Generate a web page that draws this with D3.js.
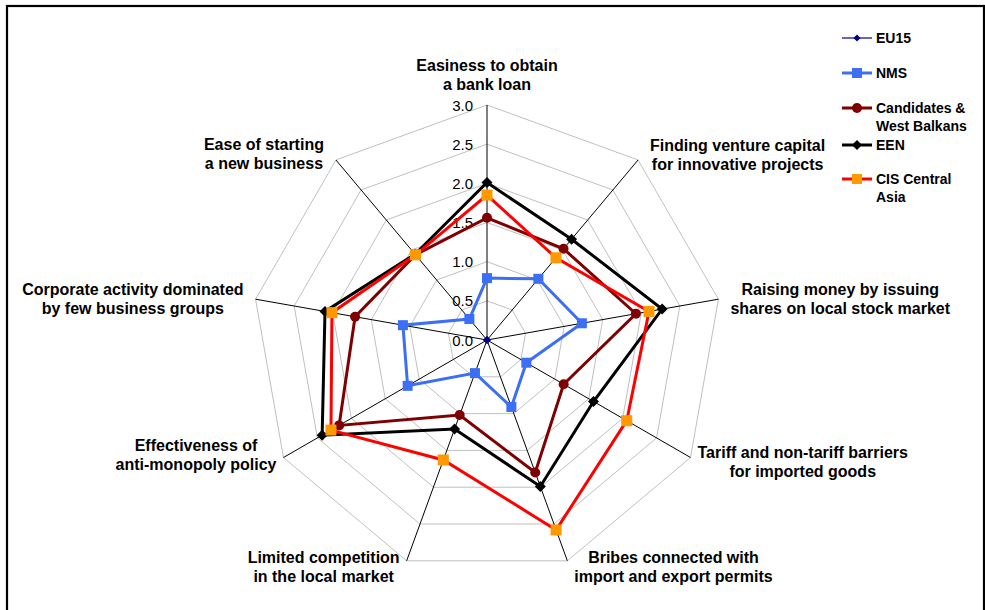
<!DOCTYPE html>
<html>
<head>
<meta charset="utf-8">
<script src="https://cdn.jsdelivr.net/npm/d3@7"></script>
<style>
  html, body { margin: 0; padding: 0; background: #fff; }
  svg { display: block; font-family: "Liberation Sans", Arial, sans-serif; }
</style>
</head>
<body>
<svg id="chart" width="985" height="610"></svg>
<script>
// ---------- data ----------
const categories = [
  ["Easiness to obtain", "a bank loan"],
  ["Finding venture capital", "for innovative projects"],
  ["Raising money by issuing", "shares on local stock market"],
  ["Tariff and non-tariff barriers", "for imported goods"],
  ["Bribes connected with", "import and export permits"],
  ["Limited competition", "in the local market"],
  ["Effectiveness of", "anti-monopoly policy"],
  ["Corporate activity dominated", "by few business groups"],
  ["Ease of starting", "a new business"]
];
const tickValues = [0, 0.5, 1.0, 1.5, 2.0, 2.5, 3.0];
const tickLabels = ["0.0", "0.5", "1.0", "1.5", "2.0", "2.5", "3.0"];

const seriesNames = ["EU15", "NMS", "Candidates & West Balkans", "EEN", "CIS Central Asia"];
const eu15Values       = [0, 0, 0, 0, 0, 0, 0, 0, 0];
const nmsValues        = [0.79, 1.02, 1.23, 0.58, 0.91, 0.45, 1.17, 1.09, 0.35];
const candidatesValues = [1.56, 1.52, 1.93, 1.13, 1.80, 1.02, 2.18, 1.71, 1.42];
const eenValues        = [2.01, 1.68, 2.27, 1.57, 1.99, 1.21, 2.43, 2.10, 1.43];
const cisValues        = [1.85, 1.37, 2.10, 2.06, 2.58, 1.63, 2.30, 2.01, 1.42];

// ---------- styles ----------
const seriesStyle = [
  { name: "EU15", lines: ["EU15"], values: eu15Values, stroke: "#000080", width: 1.2, marker: "diamond", fill: "#000080", size: 7 },
  { name: "NMS", lines: ["NMS"], values: nmsValues, stroke: "#3d6ff5", width: 3, marker: "square", fill: "#3d6ff5", size: 10 },
  { name: "Candidates & West Balkans", lines: ["Candidates &", "West Balkans"], values: candidatesValues, stroke: "#7f0000", width: 3, marker: "circle", fill: "#7f0000", size: 10 },
  { name: "EEN", lines: ["EEN"], values: eenValues, stroke: "#000000", width: 3, marker: "diamond", fill: "#000000", size: 11 },
  { name: "CIS Central Asia", lines: ["CIS Central", "Asia"], values: cisValues, stroke: "#ff0000", width: 3, marker: "square", fill: "#ff9900", size: 11 }
];
// small vertical label nudges (layout only)
const labelNudge = [0, -2, 0, 1, 0, 0, -6, 0, -3];

const svg = d3.select("#chart");
const cx = 487, cy = 340, R = 235;
const n = categories.length;

const r = d3.scaleLinear().domain([0, 3]).range([0, R]);
const ang = d3.scaleLinear().domain([0, n]).range([0, 2 * Math.PI]);
const px = (i, v) => cx + r(v) * Math.sin(ang(i));
const py = (i, v) => cy - r(v) * Math.cos(ang(i));

// border
svg.append("rect")
  .attr("x", 7).attr("y", 6).attr("width", 977).attr("height", 620)
  .attr("fill", "none").attr("stroke", "#000").attr("stroke-width", 2.2);

// grid rings
const g = svg.append("g");
tickValues.filter(t => t > 0).forEach(t => {
  const pts = d3.range(n).map(i => [px(i, t), py(i, t)]);
  g.append("polygon")
    .attr("points", pts.map(p => p.join(",")).join(" "))
    .attr("fill", "none").attr("stroke", "#c0c0c0").attr("stroke-width", 1);
});

// axis spokes
d3.range(n).forEach(i => {
  g.append("line")
    .attr("x1", cx).attr("y1", cy)
    .attr("x2", px(i, 3)).attr("y2", py(i, 3))
    .attr("stroke", "#000").attr("stroke-width", 1);
});

// tick labels
g.selectAll("text.tick").data(tickValues).enter().append("text")
  .attr("class", "tick")
  .attr("x", cx - 14)
  .attr("y", d => cy - r(d) + 5.5)
  .attr("text-anchor", "end")
  .attr("font-size", 15)
  .attr("fill", "#000")
  .text((d, i) => tickLabels[i]);

// category labels
categories.forEach((lines, i) => {
  const a = ang(i);
  const s = Math.sin(a), c = Math.cos(a);
  const ex = px(i, 3), ey = py(i, 3);
  const t = svg.append("text")
    .attr("font-size", 16).attr("font-weight", "bold").attr("fill", "#000")
    .attr("text-anchor", "middle");
  const tspans = lines.map((l, k) => t.append("tspan").text(l));
  const w = d3.max(tspans, ts => ts.node().getComputedTextLength());
  let x, y0;
  if (Math.abs(s) < 0.1) {
    x = ex;
    y0 = ey - 15 - 19 * (lines.length - 1);
  } else {
    const pad = c > 0 ? 12 : 7;
    x = s > 0 ? ex + pad + w / 2 : ex - pad - w / 2;
    y0 = ey - 3 - 5 * c;
  }
  y0 += labelNudge[i];
  tspans.forEach((ts, k) => ts.attr("x", x).attr("y", y0 + 19 * k));
});

// marker generator
function drawMarker(sel, type, size, fill) {
  if (type === "square") {
    sel.append("rect").attr("x", -size / 2).attr("y", -size / 2)
      .attr("width", size).attr("height", size).attr("fill", fill);
  } else if (type === "circle") {
    sel.append("circle").attr("r", size / 2).attr("fill", fill);
  } else {
    const h = size / 2;
    sel.append("path").attr("d", `M0,${-h}L${h},0L0,${h}L${-h},0Z`).attr("fill", fill);
  }
}

// series
const radialLine = d3.lineRadial()
  .angle((d, i) => ang(i))
  .radius(d => r(d))
  .curve(d3.curveLinearClosed);

seriesStyle.forEach(sd => {
  const sg = svg.append("g").attr("transform", `translate(${cx},${cy})`);
  sg.append("path")
    .attr("d", radialLine(sd.values))
    .attr("fill", "none").attr("stroke", sd.stroke)
    .attr("stroke-width", sd.width).attr("stroke-linejoin", "miter");
  sd.values.forEach((v, i) => {
    const m = sg.append("g").attr("transform", `translate(${r(v) * Math.sin(ang(i))},${-r(v) * Math.cos(ang(i))})`);
    drawMarker(m, sd.marker, sd.size, sd.fill);
  });
});

// legend
const legendY = [38, 73, 108, 145, 179];
const lg = svg.append("g");
seriesStyle.forEach((sd, k) => {
  const y = legendY[k];
  lg.append("line").attr("x1", 842).attr("x2", 872).attr("y1", y).attr("y2", y)
    .attr("stroke", sd.stroke).attr("stroke-width", sd.width);
  const m = lg.append("g").attr("transform", `translate(857,${y})`);
  drawMarker(m, sd.marker, sd.marker === "diamond" && k === 0 ? 7 : 10, sd.fill);
  const t = lg.append("text").attr("font-size", 14).attr("font-weight", "bold").attr("fill", "#000");
  sd.lines.forEach((l, j) => {
    t.append("tspan").attr("x", 876).attr("y", y + 5 + 17.7 * j).text(l);
  });
});
</script>
</body>
</html>
